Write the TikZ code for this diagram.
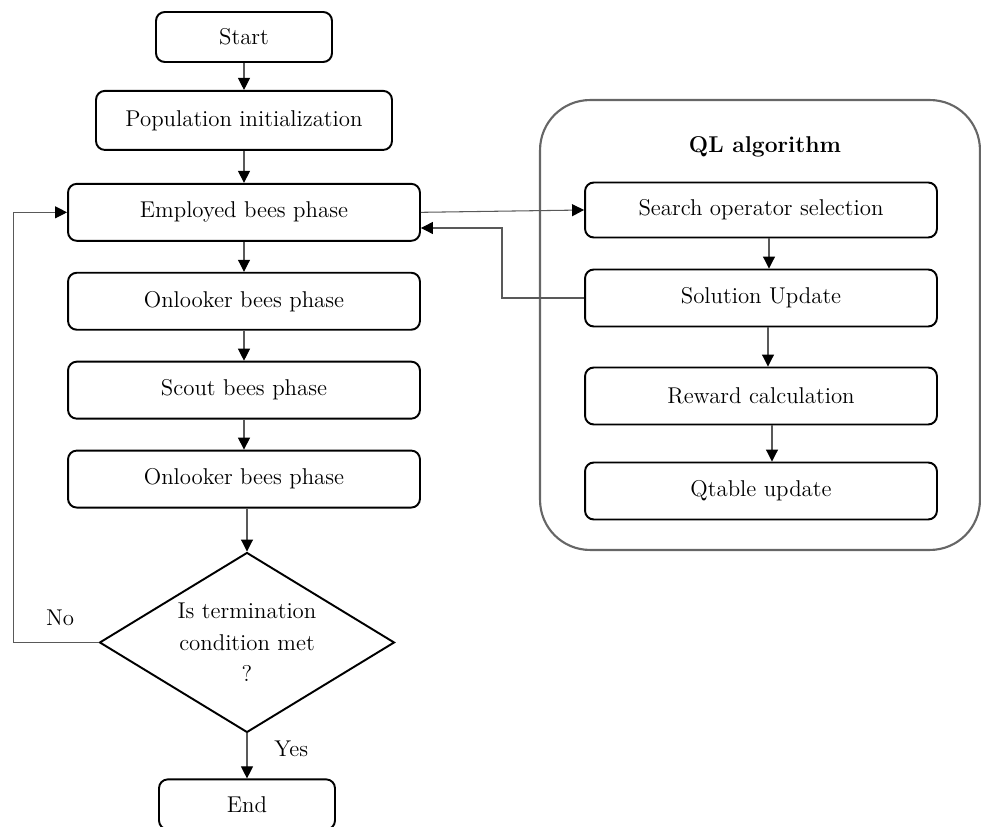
\documentclass[tikz,border=0pt]{standalone}
\usetikzlibrary{positioning, shapes.geometric, arrows.meta}

\begin{document}
\begin{tikzpicture}[x=0.02cm, y=-0.02cm, node distance=0.6cm,
                every node/.style={font=\fontsize{13}{18}\selectfont},
                box/.style={draw, line width=1.1pt, rounded corners=5pt, align=center, inner sep=2pt,
                            minimum width=7.04cm, minimum height=1.14cm},
                endbox/.style={box, minimum width=3.52cm, minimum height=1cm},
                decide/.style={draw, line width=1.1pt, diamond, aspect=1.6, align=center, inner sep=0pt,
                               minimum width=5.9cm, minimum height=3.6cm},
                frame/.style={draw=black!60, line width=1.2pt, rounded corners=1cm,
                              minimum width=8.8cm, minimum height=9cm},
                link/.style={draw=black!65, line width=0.6pt,
                             -{Triangle[length=0.24cm, width=0.24cm, color=black]}}]
                \useasboundingbox (0,0) rectangle (981,827);
                % main loop
                \node[endbox] (start) at (244,37) {Start};
                \node[box, minimum width=5.92cm, minimum height=1.18cm] (init) [below=0.54cm of start] {Population initialization};
                \node[box] (employed) [below=0.64cm of init] {Employed bees phase};
                \node[box] (onlooker) [below=of employed] {Onlooker bees phase};
                \node[box] (scout)    [below=of onlooker] {Scout bees phase};
                \node[box] (onlooker2)[below=of scout]    {Onlooker bees phase};
                \node[decide] (cond)  [below=0.86cm of onlooker2, xshift=0.06cm] {Is termination\\condition met\\?};
                \node[endbox] (stop)  [below=0.9cm of cond] {End};
                \coordinate (backup) at ([xshift=-1.08cm]employed.west);
                \draw[link] (start) -- (init);
                \draw[link] (init) -- (employed);
                \draw[link] (employed) -- (onlooker);
                \draw[link] (onlooker) -- (scout);
                \draw[link] (scout) -- (onlooker2);
                \draw[link] (onlooker2.south -| cond.north) -- (cond);
                \draw[link] (cond) -- node[right=12pt, pos=0.35] (yes) {Yes} (stop);
                \draw[link] (cond.west) -| (backup) -- (employed.west);
                \node (no) at (60,618) {No};
                % QL part
                \node[frame] (ql) at (760,325) {};
                \node[font=\fontsize{13}{18}\selectfont\bfseries] (qltitle) at (765,147) {QL algorithm};
                \node[box, minimum height=1.1cm] (search)   at (761,210) {Search operator selection};
                \node[box] (solution) at (761,298) {Solution Update};
                \node[box] (reward)   at (761,396) {Reward calculation};
                \node[box] (qtable)   at (761,491) {Qtable update};
                \draw[link] (employed.east) -- (search.west);
                \draw[link] ([xshift=0.16cm]search.south) -- ([xshift=0.16cm]solution.north);
                \draw[link] ([xshift=0.14cm]solution.south) -- ([xshift=0.14cm]reward.north);
                \draw[link] ([xshift=0.22cm]reward.south) -- ([xshift=0.22cm]qtable.north);
                \coordinate (turn) at (502,228);
                \draw[link] (solution.west) -| (turn) -- (turn -| employed.east);
\end{tikzpicture}
\end{document}
